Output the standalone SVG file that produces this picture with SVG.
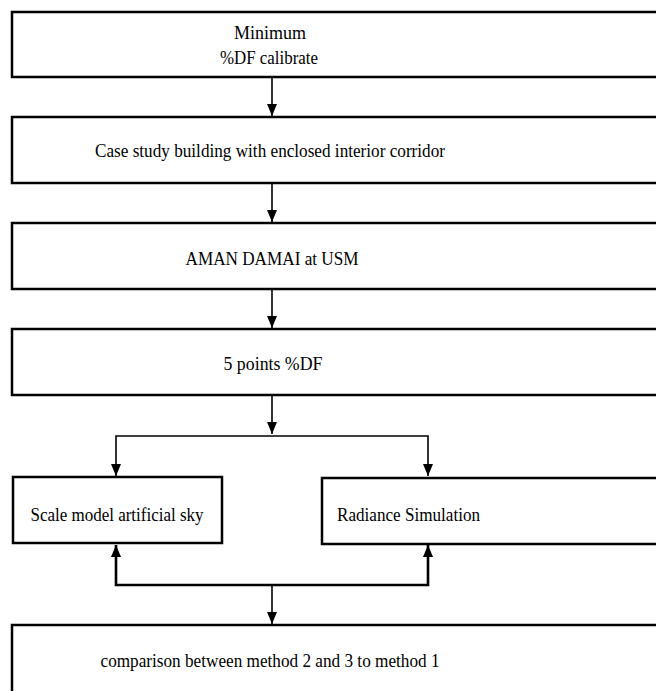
<svg xmlns="http://www.w3.org/2000/svg" width="656" height="691" viewBox="0 0 656 691">
<style>
.box{fill:#fff;stroke:#000;stroke-width:2.5}
.c{fill:none;stroke:#000;stroke-width:1.6}
.ct{fill:none;stroke:#000;stroke-width:2.6}
</style>
<defs>
<marker id="ad" markerUnits="userSpaceOnUse" markerWidth="12" markerHeight="10" viewBox="0 0 12 10" refX="12" refY="5" orient="auto-start-reverse">
<path d="M0,0 L12,5 L0,10 Z" fill="#000"/>
</marker>
</defs>
<rect width="656" height="691" fill="#fff"/>
<g id="connectors">
<line class="c" x1="272" y1="78" x2="272" y2="116" marker-end="url(#ad)"/>
<line class="c" x1="272" y1="184" x2="272" y2="222" marker-end="url(#ad)"/>
<line class="c" x1="272" y1="290" x2="272" y2="328" marker-end="url(#ad)"/>
<line class="c" x1="272" y1="396" x2="272" y2="434" marker-end="url(#ad)"/>
<polyline class="c" points="116,476 116,436 428,436 428,476" marker-start="url(#ad)" marker-end="url(#ad)"/>
<polyline class="ct" points="116,545 116,585 428,585 428,545" marker-start="url(#ad)" marker-end="url(#ad)"/>
<line class="c" x1="272" y1="585" x2="272" y2="624" marker-end="url(#ad)"/>
</g>
<g font-family="Liberation Serif, serif" font-size="19" fill="#000">
<g id="n1"><rect class="box" x="12" y="12" width="700" height="65"/>
<text x="270" y="39" text-anchor="middle" textLength="72" lengthAdjust="spacingAndGlyphs">Minimum</text>
<text x="269" y="64" text-anchor="middle" textLength="98" lengthAdjust="spacingAndGlyphs">%DF calibrate</text></g>
<g id="n2"><rect class="box" x="12" y="117" width="700" height="66"/>
<text x="270" y="157" text-anchor="middle" textLength="350" lengthAdjust="spacingAndGlyphs">Case study building with enclosed interior corridor</text></g>
<g id="n3"><rect class="box" x="12" y="223" width="700" height="66"/>
<text x="272" y="265" text-anchor="middle" textLength="173" lengthAdjust="spacingAndGlyphs">AMAN DAMAI at USM</text></g>
<g id="n4"><rect class="box" x="12" y="329" width="700" height="66"/>
<text x="273" y="370" text-anchor="middle" textLength="99" lengthAdjust="spacingAndGlyphs">5 points %DF</text></g>
<g id="n5"><rect class="box" x="13" y="477" width="209" height="66"/>
<text x="117" y="521" text-anchor="middle" textLength="173" lengthAdjust="spacingAndGlyphs">Scale model artificial sky</text></g>
<g id="n6"><rect class="box" x="322" y="478" width="400" height="66"/>
<text x="337" y="521" textLength="143" lengthAdjust="spacingAndGlyphs">Radiance Simulation</text></g>
<g id="n7"><rect class="box" x="12" y="625" width="700" height="100"/>
<text x="270" y="667" text-anchor="middle" textLength="339" lengthAdjust="spacingAndGlyphs">comparison between method 2 and 3 to method 1</text></g>
</g>
</svg>
